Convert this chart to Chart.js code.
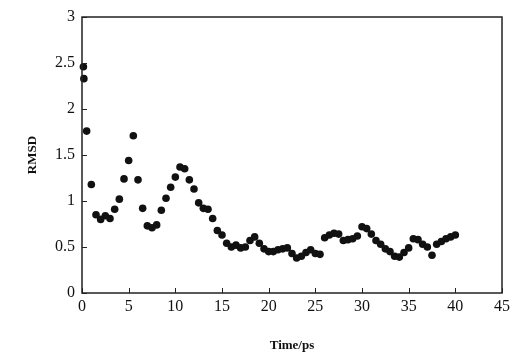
<!DOCTYPE html>
<html>
<head>
<meta charset="utf-8">
<script src="https://cdn.jsdelivr.net/npm/chart.js@4/dist/chart.umd.min.js"></script>
<style>
  html, body { margin: 0; padding: 0; background: #fff; }
  #wrap { width: 514px; height: 355px; }
</style>
</head>
<body>
<div id="wrap"><canvas id="rmsdChart"></canvas></div>
<script>
// RMSD vs time

var times = [
	0.15, 0.2, 0.5, 1.0, 1.5, 2.0, 2.5, 3.0, 3.5, 4.0,
	4.5, 5.0, 5.5, 6.0, 6.5, 7.0, 7.5, 8.0, 8.5, 9.0,
	9.5, 10.0, 10.5, 11.0, 11.5, 12.0, 12.5, 13.0, 13.5, 14.0,
	14.5, 15.0, 15.5, 16.0, 16.5, 17.0, 17.5, 18.0, 18.5, 19.0,
	19.5, 20.0, 20.5, 21.0, 21.5, 22.0, 22.5, 23.0, 23.5, 24.0,
	24.5, 25.0, 25.5, 26.0, 26.5, 27.0, 27.5, 28.0, 28.5, 29.0,
	29.5, 30.0, 30.5, 31.0, 31.5, 32.0, 32.5, 33.0, 33.5, 34.0,
	34.5, 35.0, 35.5, 36.0, 36.5, 37.0, 37.5, 38.0, 38.5, 39.0,
	39.5, 40.0
];

var rmsd = [
	2.46, 2.33, 1.76, 1.18, 0.85, 0.80, 0.84, 0.81, 0.91, 1.02,
	1.24, 1.44, 1.71, 1.23, 0.92, 0.73, 0.71, 0.74, 0.90, 1.03,
	1.15, 1.26, 1.37, 1.35, 1.23, 1.13, 0.98, 0.92, 0.91, 0.81,
	0.68, 0.63, 0.54, 0.50, 0.52, 0.49, 0.50, 0.57, 0.61, 0.54,
	0.48, 0.45, 0.45, 0.47, 0.48, 0.49, 0.43, 0.38, 0.40, 0.44,
	0.47, 0.43, 0.42, 0.60, 0.63, 0.65, 0.64, 0.57, 0.58, 0.59,
	0.62, 0.72, 0.70, 0.64, 0.57, 0.53, 0.48, 0.45, 0.40, 0.39,
	0.44, 0.49, 0.59, 0.58, 0.53, 0.50, 0.41, 0.53, 0.56, 0.59,
	0.61, 0.63
];

var xTicks = [0, 5, 10, 15, 20, 25, 30, 35, 40, 45];
var yTicks = [0, 0.5, 1, 1.5, 2, 2.5, 3];

var points = times.map(function (t, i) { return { x: t, y: rmsd[i] }; });

var serif = "'Liberation Serif', 'DejaVu Serif', serif";

// full box around the plot plus short inward tick marks
var frame = {
	id: 'frame',
	afterDraw: function (chart) {
		var c = chart.ctx, a = chart.chartArea;
		var xs = chart.scales.x, ys = chart.scales.y;
		c.save();
		c.strokeStyle = '#222';
		c.lineWidth = 1.5;
		c.strokeRect(a.left, a.top, a.right - a.left, a.bottom - a.top);
		c.lineWidth = 1;
		c.beginPath();
		xTicks.forEach(function (v) {
			var px = Math.round(xs.getPixelForValue(v)) + 0.5;
			c.moveTo(px, a.bottom);
			c.lineTo(px, a.bottom - 5);
		});
		yTicks.forEach(function (v) {
			var py = Math.round(ys.getPixelForValue(v)) + 0.5;
			c.moveTo(a.left, py);
			c.lineTo(a.left + 5, py);
		});
		c.stroke();
		c.restore();
	}
};

new Chart(document.getElementById('rmsdChart'), {
	type: 'scatter',
	data: {
		datasets: [{
			data: points,
			backgroundColor: '#111',
			borderColor: '#111',
			pointRadius: 3.8,
			pointBorderWidth: 0,
			clip: false
		}]
	},
	options: {
		responsive: true,
		maintainAspectRatio: false,
		animation: false,
		layout: {
			padding: { left: 25, right: 10, top: 17, bottom: 2 }
		},
		plugins: {
			legend: { display: false },
			tooltip: { enabled: false }
		},
		scales: {
			x: {
				type: 'linear',
				min: 0,
				max: 45,
				afterBuildTicks: function (s) { s.ticks = xTicks.map(function (v) { return { value: v }; }); },
				grid: { display: false, drawTicks: false },
				border: { display: false },
				ticks: {
					color: '#111',
					padding: 4,
					maxRotation: 0,
					font: { family: serif, size: 16 },
					callback: function (v) { return String(v); }
				},
				title: {
					display: true,
					text: 'Time/ps',
					color: '#111',
					padding: 0,
					font: { family: serif, size: 13, weight: 'bold' }
				},
				afterFit: function (s) { s.height = 60; }
			},
			y: {
				min: 0,
				max: 3,
				afterBuildTicks: function (s) { s.ticks = yTicks.map(function (v) { return { value: v }; }); },
				grid: { display: false, drawTicks: false },
				border: { display: false },
				ticks: {
					color: '#111',
					padding: 7,
					font: { family: serif, size: 16 },
					callback: function (v) { return String(v); }
				},
				title: {
					display: true,
					text: 'RMSD',
					color: '#111',
					padding: 0,
					font: { family: serif, size: 13, weight: 'bold' }
				},
				afterFit: function (s) { s.width = 57; }
			}
		}
	},
	plugins: [frame]
});
</script>
</body>
</html>
